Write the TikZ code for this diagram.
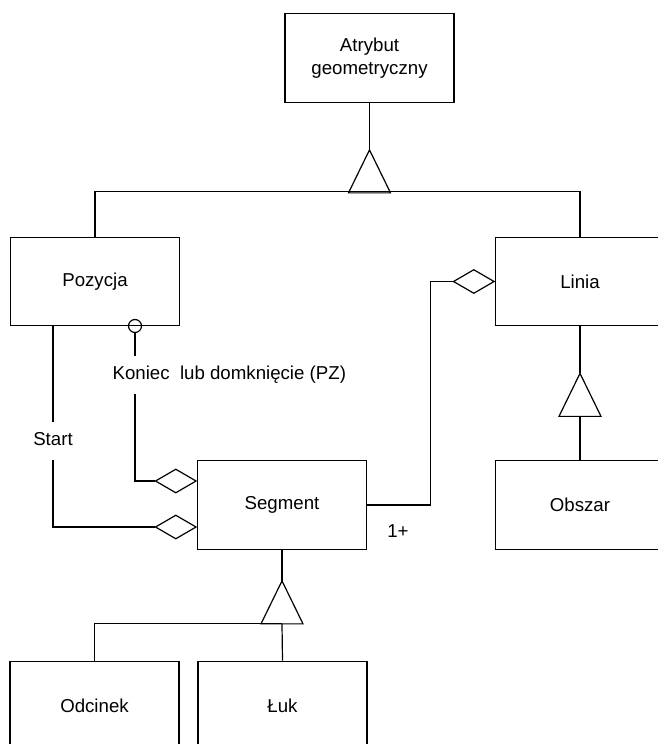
\documentclass[tikz,border=0pt]{standalone}
\usepackage{fontspec}
\setmainfont{Liberation Sans}
\usetikzlibrary{shapes.geometric}
\tikzset{
  box/.style={draw, minimum width=126.75pt, minimum height=66.4pt, align=center, fill=white},
  agg/.style={draw, diamond, fill=white, minimum width=30.75pt, minimum height=18pt, inner sep=0pt},
  lbl/.style={inner xsep=0pt, inner ysep=7.5pt, text height=10pt, text depth=3pt}
}
\newcommand{\gentri}[1]{\draw[fill=white] (#1) -- ++(-21,43) -- ++(42,0) -- cycle;}

\begin{document}
\begin{tikzpicture}[x=0.75pt, y=-0.75pt, line width=0.9pt, font=\fontsize{14}{17}\selectfont]
    \useasboundingbox (0,0) rectangle (658,744);
    \clip (0,0) rectangle (658,744);
    % classes
    \node[box] (attr) at (369.5,58) {Atrybut\\geometryczny};
    \node[box] (poz) at (95,281.5) {Pozycja};
    \node[box] (linia) at (580,281.5) {Linia};
    \node[box] (obszar) at (580,505) {Obszar};
    \node[box] (seg) at (282,505) {Segment};
    \node[box] (odc) at (94.5,705.5) {Odcinek};
    \node[box] (luk) at (282.5,705.5) {Łuk};
    % generalisations
    \draw (attr.south) -- ++(0,47) coordinate (g1);
    \gentri{g1}
    \draw (poz.north) -- ++(0,-45) -| (linia.north);
    \draw (linia.south) -- ++(0,47) coordinate (g2);
    \gentri{g2}
    \draw (g2) ++(0,43) -- (obszar.north);
    \draw (seg.south) -- ++(0,31) coordinate (g3);
    \gentri{g3}
    \path (g3) ++(0,43) coordinate (b3);
    \draw (odc.north) |- (b3);
    \draw (b3) -- (luk.north);
    % aggregations
    \node[agg, anchor=east] (dlin) at (linia.west) {};
    \draw (seg.east) -- ++(63,0) |- (dlin.west);
    \node (mult) at (398,531) {1+};
    \node[agg, anchor=east] (dend) at (seg.west |- 0,481) {};
    \node[agg, anchor=east] (dstart) at (seg.west |- 0,527) {};
    \node[circle, draw, minimum size=9.75pt, inner sep=0pt] (cend) at (135,326) {};
    \node[lbl, anchor=west] (lend) at (112,375) {Koniec\ \ lub domknięcie (PZ)};
    \node[lbl] (lstart) at (53,441) {Start};
    \draw (cend.south) -- (cend |- lend.north);
    \draw (cend |- lend.south) |- (dend.west);
    \draw (poz.south -| lstart) -- (lstart.north);
    \draw (lstart.south) |- (dstart.west);
\end{tikzpicture}
\end{document}
